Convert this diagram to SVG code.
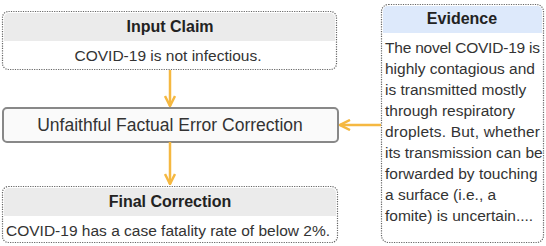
<svg xmlns="http://www.w3.org/2000/svg" width="546" height="246" viewBox="0 0 546 246">
<defs>
<style>
.dot{fill:#fff;stroke:#666;stroke-width:1.2;stroke-dasharray:1.2 1.2}
.hdr{fill:#ebebeb}
.hdrb{fill:#dde9fb}
.t{font-family:"Liberation Sans",Arial,sans-serif;fill:#333}
.b{font-weight:bold;font-size:16px;fill:#222}
.c{font-size:15.5px}
.e{stroke:#f5b841;stroke-width:2.5;fill:none}
</style>
<marker id="ah" viewBox="0 0 10 10" refX="9" refY="5" markerWidth="5" markerHeight="5" orient="auto" markerUnits="strokeWidth">
<path d="M1,1 L9,5 L1,9" fill="none" stroke="#f5b841" stroke-width="2"/>
</marker>
</defs>
<g id="input-claim">
<rect class="dot" x="2.5" y="11.5" width="334" height="58" rx="6"/>
<path class="hdr" d="M4,18 a5,5 0 0 1 5,-5 h321 a5,5 0 0 1 5,5 v23 h-331 z"/>
<text class="t b" x="170" y="32" text-anchor="middle">Input Claim</text>
<text class="t c" x="168" y="61" text-anchor="middle">COVID-19 is not infectious.</text>
</g>
<g id="unfaithful-fec">
<rect x="3" y="108" width="335" height="34" rx="4" fill="#fafafa" stroke="#888" stroke-width="2"/>
<text class="t" x="170" y="131" text-anchor="middle" font-size="17.5" fill="#222">Unfaithful Factual Error Correction</text>
</g>
<g id="final-correction">
<rect class="dot" x="2.5" y="186.5" width="335" height="56" rx="6"/>
<path class="hdr" d="M4,193 a5,5 0 0 1 5,-5 h322 a5,5 0 0 1 5,5 v23 h-332 z"/>
<text class="t b" x="170" y="207" text-anchor="middle">Final Correction</text>
<text class="t c" x="168" y="236" text-anchor="middle">COVID-19 has a case fatality rate of below 2%.</text>
</g>
<g id="evidence">
<rect class="dot" x="381.5" y="4.5" width="162" height="238" rx="7"/>
<path class="hdrb" d="M383,11 a5,5 0 0 1 5,-5 h149 a5,5 0 0 1 5,5 v22 h-159 z"/>
<text class="t b" x="462" y="24" text-anchor="middle">Evidence</text>
<g class="t c">
<text x="385" y="53" textLength="155" lengthAdjust="spacing">The novel COVID-19 is</text>
<text x="385" y="74">highly contagious and</text>
<text x="385" y="95">is transmitted mostly</text>
<text x="385" y="116">through respiratory</text>
<text x="385" y="137" textLength="155" lengthAdjust="spacing">droplets. But, whether</text>
<text x="385" y="158">its transmission can be</text>
<text x="385" y="179">forwarded by touching</text>
<text x="385" y="200">a surface (i.e., a</text>
<text x="385" y="221">fomite) is uncertain....</text>
</g>
</g>
<g id="connectors">
<line class="e" x1="170" y1="70" x2="170" y2="106" marker-end="url(#ah)"/>
<line class="e" x1="170" y1="142" x2="170" y2="184" marker-end="url(#ah)"/>
<line class="e" x1="381" y1="125" x2="340" y2="125" marker-end="url(#ah)"/>
</g>
</svg>
